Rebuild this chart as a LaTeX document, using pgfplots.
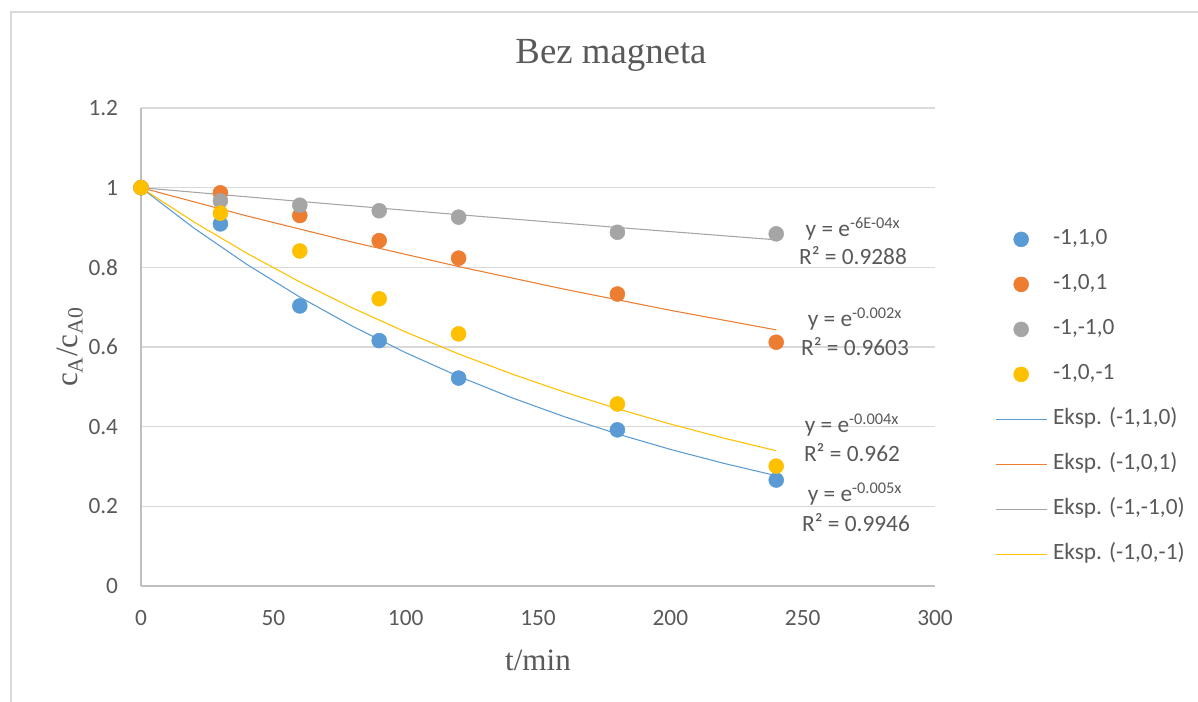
\documentclass[border=0pt]{standalone}
\usepackage{fontspec}
\setmainfont{Carlito}
\newfontfamily\seriffont{Liberation Serif}
\usepackage{pgfplots}
\pgfplotsset{compat=1.18}
\definecolor{cblue}{HTML}{5B9BD5}
\definecolor{corange}{HTML}{ED7D31}
\definecolor{cgray}{HTML}{A5A5A5}
\definecolor{cyellow}{HTML}{FFC000}
\definecolor{txt}{HTML}{595959}
\definecolor{gridc}{HTML}{D9D9D9}
\definecolor{axisc}{HTML}{BFBFBF}
\newcommand\PX[2]{({#1*0.75pt},{(702-#2)*0.75pt})}
\begin{document}
\begin{tikzpicture}
\path[use as bounding box] (0,0) rectangle (898.5pt,526.5pt);
\draw[gridc, line width=1.5pt] \PX{11}{702} -- \PX{11}{12} -- \PX{1198}{12};
\begin{axis}[
  at={(105.75pt,87pt)}, anchor=south west,
  scale only axis, width=595.5pt, height=358.5pt,
  xmin=0, xmax=300, ymin=0, ymax=1.2,
  xtick={0,50,...,300}, ytick={0,0.2,0.4,0.6,0.8,1,1.2},
  axis x line=bottom, axis y line=left,
  axis line style={-, axisc, line width=1.1pt},
  major tick length=0pt,
  ymajorgrids, grid style={gridc, line width=1pt},
  /pgf/number format/assume math mode=true,
  ticklabel style={font=\fontsize{17.5}{20}\selectfont, text=txt, inner sep=0pt},
  xticklabel style={yshift=-18pt},
  yticklabel style={xshift=-17pt},
  clip=false,
  legend cell align=left,
  legend style={at={(axis description cs:1.0756,0.748)}, anchor=north west,
    draw=none, fill=none, inner sep=0pt, row sep=17.75pt, column sep=4.5pt,
    font=\fontsize{17.5}{20}\selectfont, text=txt,
    nodes={inner sep=0pt, text height=12pt, text depth=4pt}},
  legend image code/.code={\draw[mark repeat=2,mark phase=2] plot coordinates {(0pt,0pt) (19pt,0pt) (38pt,0pt)};},
]
\addplot[only marks, mark=*, mark size=5.6pt, color=cblue, mark options={draw=none, fill=cblue}]
  coordinates {(0,1) (30,0.909) (60,0.703) (90,0.616) (120,0.522) (180,0.392) (240,0.266)};
\addlegendentry{-1,1,0}
\addplot[only marks, mark=*, mark size=5.6pt, color=corange, mark options={draw=none, fill=corange}]
  coordinates {(0,1) (30,0.987) (60,0.930) (90,0.867) (120,0.823) (180,0.733) (240,0.612)};
\addlegendentry{-1,0,1}
\addplot[only marks, mark=*, mark size=5.6pt, color=cgray, mark options={draw=none, fill=cgray}]
  coordinates {(0,1) (30,0.967) (60,0.956) (90,0.942) (120,0.926) (180,0.888) (240,0.884)};
\addlegendentry{-1,-1,0}
\addplot[only marks, mark=*, mark size=5.6pt, color=cyellow, mark options={draw=none, fill=cyellow}]
  coordinates {(0,1) (30,0.936) (60,0.841) (90,0.721) (120,0.633) (180,0.457) (240,0.301)};
\addlegendentry{-1,0,-1}
\addplot[no marks, cblue, line width=0.8pt]
  coordinates {(0,1) (20,0.8985) (40,0.8073) (60,0.7254) (80,0.6518) (100,0.5857) (120,0.5263) (140,0.4729) (160,0.4249) (180,0.3817) (200,0.3430) (220,0.3082) (240,0.2769)};
\addlegendentry{Eksp. (-1,1,0)}
\addplot[no marks, corange, line width=0.8pt]
  coordinates {(0,1) (40,0.9290) (80,0.8631) (120,0.8019) (160,0.7450) (200,0.6921) (240,0.6430)};
\addlegendentry{Eksp. (-1,0,1)}
\addplot[no marks, cgray, line width=0.8pt]
  coordinates {(0,1) (60,0.9655) (120,0.9322) (180,0.9001) (240,0.8690)};
\addlegendentry{Eksp. (-1,-1,0)}
\addplot[no marks, cyellow, line width=0.8pt]
  coordinates {(0,1) (20,0.9139) (40,0.8353) (60,0.7634) (80,0.6977) (100,0.6376) (120,0.5827) (140,0.5326) (160,0.4868) (180,0.4449) (200,0.4066) (220,0.3716) (240,0.3396)};
\addlegendentry{Eksp. (-1,0,-1)}
\end{axis}
% title and axis labels
\node[text=txt, font=\seriffont\fontsize{27.6}{30}\selectfont] at \PX{611}{55} {Bez magneta};
\node[text=txt, font=\seriffont\fontsize{23.3}{26}\selectfont] at \PX{538}{660} {t/min};
\node[text=txt, font=\seriffont\fontsize{23.3}{26}\selectfont, rotate=90] at \PX{70}{347} {c\textsubscript{A}/c\textsubscript{A0}};
% trendline equations
\begin{scope}[every node/.style={text=txt, font=\fontsize{17.5}{20}\selectfont, anchor=base, inner sep=0pt}]
\node at \PX{853}{237} {y = e\textsuperscript{-6E-04x}};
\node at \PX{853}{265} {R² = 0.9288};
\node at \PX{855}{326.7} {y = e\textsuperscript{-0.002x}};
\node at \PX{855}{355.7} {R² = 0.9603};
\node at \PX{852}{433} {y = e\textsuperscript{-0.004x}};
\node at \PX{852}{462} {R² = 0.962};
\node at \PX{855}{501.7} {y = e\textsuperscript{-0.005x}};
\node at \PX{856}{532} {R² = 0.9946};
\end{scope}
\end{tikzpicture}
\end{document}
